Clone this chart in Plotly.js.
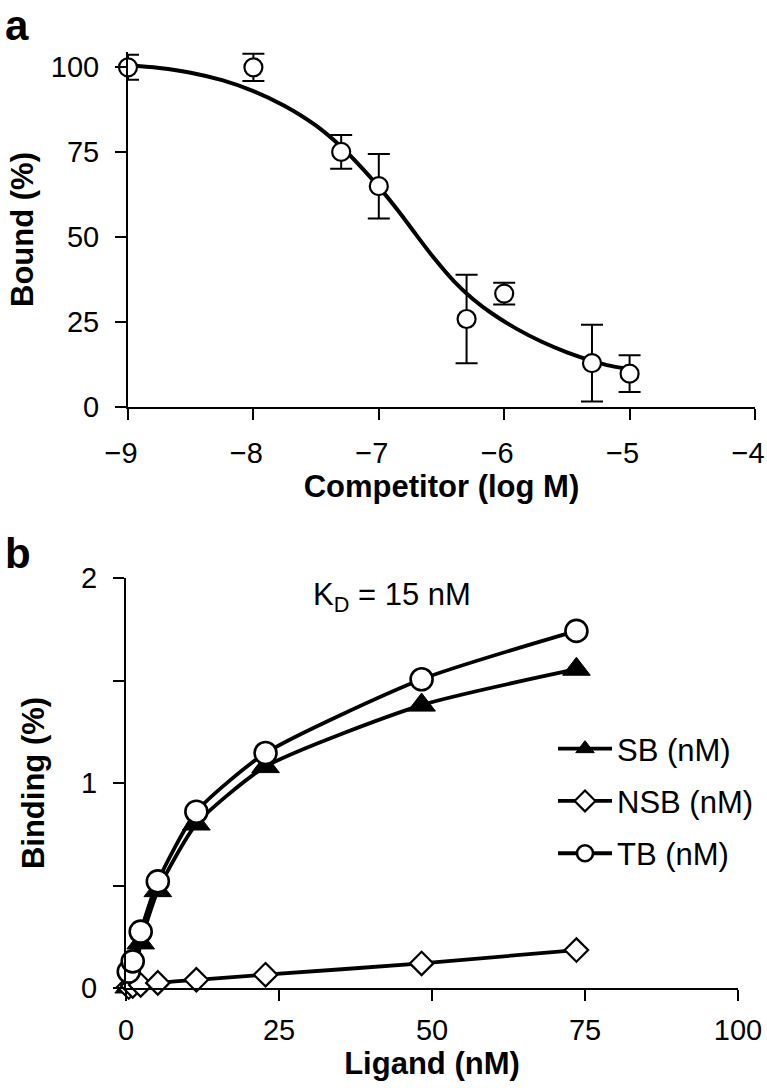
<!DOCTYPE html>
<html>
<head>
<meta charset="utf-8">
<script src="https://cdn.plot.ly/plotly-3.0.1.min.js"></script>
<style>html,body{margin:0;padding:0;background:#fff;}#chart{width:767px;height:1088px;}</style>
</head>
<body>
<div id="chart"></div>
<script>
// ---------- Panel a data ----------
const competitorLogM = [-9, -8, -7.3, -7, -6.3, -6, -5.3, -5];
const boundPct = [100, 100, 75.1, 65.0, 25.9, 33.4, 12.9, 9.8];
const boundErr = [3.7, 4.0, 5.0, 9.5, 13.0, 3.2, 11.3, 5.4];
const fitX = [-9, -8.75, -8.5, -8.25, -8, -7.75, -7.5, -7.3, -7.15, -7, -6.85, -6.7, -6.55, -6.4, -6.25, -6.1, -5.9, -5.7, -5.5, -5.3, -5.15, -5];
const fitY = [100.6, 99.8, 98.4, 96.2, 93.0, 88.6, 82.8, 76.6, 71.0, 64.8, 58.0, 50.6, 43.4, 37.0, 31.8, 27.6, 23.0, 19.2, 16.1, 13.6, 12.1, 11.2];
const xTicksA = [-9, -8, -7, -6, -5, -4];
const xTickTextA = ['\u22129', '\u22128', '\u22127', '\u22126', '\u22125', '\u22124'];
const yTicksA = [0, 25, 50, 75, 100];

// ---------- Panel b data ----------
const ligandNM = [0.45, 1.1, 2.4, 5.2, 11.5, 22.8, 48.3, 73.6];
const sbVals = [0.005, 0.01, 0.22, 0.475, 0.80, 1.08, 1.38, 1.555];
const nsbVals = [0.005, 0.01, 0.015, 0.025, 0.04, 0.065, 0.12, 0.185];
const tbVals = [0.08, 0.13, 0.275, 0.52, 0.86, 1.146, 1.506, 1.742];
const seriesNames = ['SB (nM)', 'NSB (nM)', 'TB (nM)'];
const xTicksB = [0, 25, 50, 75, 100];
const yTicksB = [0, 1, 2];
const yMinorStepB = 0.5;

const FONT = 'Liberation Sans, Arial, Helvetica, sans-serif';
const W = 767, H = 1088;
const TICK = 29, TITLE = 31;

const traces = [
  {x: fitX, y: fitY, xaxis: 'x', yaxis: 'y', mode: 'lines', type: 'scatter',
   line: {color: '#000', width: 4, shape: 'spline', smoothing: 1}, showlegend: false, hoverinfo: 'skip'},
  {x: competitorLogM, y: boundPct, xaxis: 'x', yaxis: 'y', mode: 'markers', type: 'scatter',
   error_y: {type: 'data', array: boundErr, visible: true, color: '#000', thickness: 2, width: 11},
   marker: {symbol: 'circle', size: 18, color: '#fff', line: {color: '#000', width: 2.2}},
   cliponaxis: false, showlegend: false},
  {x: ligandNM, y: sbVals, xaxis: 'x2', yaxis: 'y2', mode: 'lines+markers', type: 'scatter', name: seriesNames[0],
   legendgroup: 'g1', line: {color: '#000', width: 3.8, shape: 'spline', smoothing: 0.6},
   marker: {symbol: 'triangle-up', size: 24, color: '#000', line: {color: '#000', width: 1}}, cliponaxis: false},
  {x: ligandNM, y: nsbVals, xaxis: 'x2', yaxis: 'y2', mode: 'lines+markers', type: 'scatter', name: seriesNames[1],
   legendgroup: 'g2', line: {color: '#000', width: 3.8, shape: 'spline', smoothing: 0.6},
   marker: {symbol: 'diamond', size: 18, color: '#fff', line: {color: '#000', width: 2.2}}, cliponaxis: false},
  {x: ligandNM, y: tbVals, xaxis: 'x2', yaxis: 'y2', mode: 'lines+markers', type: 'scatter', name: seriesNames[2],
   legendgroup: 'g3', line: {color: '#000', width: 3.8, shape: 'spline', smoothing: 0.6},
   marker: {symbol: 'circle', size: 22, color: '#fff', line: {color: '#000', width: 2.6}}, cliponaxis: false}
];

const axBase = {showgrid: false, zeroline: false, showline: true, linecolor: '#000', linewidth: 2,
  ticks: 'outside', ticklen: 11, tickwidth: 2, tickcolor: '#000', ticklabelstandoff: 6,
  ticklabeloverflow: 'allow',
  tickfont: {family: FONT, size: TICK, color: '#000'}, fixedrange: true};
const titleFont = {family: FONT, size: TITLE, color: '#000'};

const layout = {
  width: W, height: H,
  margin: {l: 0, r: 0, t: 0, b: 0},
  paper_bgcolor: '#fff', plot_bgcolor: 'rgba(0,0,0,0)',
  font: {family: FONT, color: '#000'},
  showlegend: true,
  legend: {x: 553 / W, y: 1 - 722 / H, xanchor: 'left', yanchor: 'top', bgcolor: 'rgba(0,0,0,0)',
    font: {family: FONT, size: 31, color: '#000'}, tracegroupgap: 9, itemwidth: 54},
  xaxis: Object.assign({}, axBase, {domain: [128 / W, 755 / W], range: [-9, -4], anchor: 'y',
    tickvals: xTicksA, ticktext: xTickTextA, ticklabelstandoff: 8, ticklabelshift: -7,
    title: {text: '<b>Competitor (log M)</b>', font: titleFont, standoff: 8}}),
  yaxis: Object.assign({}, axBase, {domain: [1 - 407 / H, 1 - 52 / H], range: [0, 104.5], anchor: 'x',
    tickvals: yTicksA, ticklabelstandoff: 10, title: {text: '<b>Bound (%)</b>', font: titleFont, standoff: 8}}),
  xaxis2: Object.assign({}, axBase, {domain: [126 / W, 738 / W], range: [0, 100], anchor: 'y2',
    tickvals: xTicksB, ticklabelstandoff: 4, title: {text: '<b>Ligand (nM)</b>', font: titleFont, standoff: 3}}),
  yaxis2: Object.assign({}, axBase, {domain: [1 - 988 / H, 1 - 578 / H], range: [0, 2], anchor: 'x2',
    tickvals: yTicksB, ticklabelstandoff: 10,
    minor: {tick0: 0, dtick: yMinorStepB, ticks: 'outside', ticklen: 11, tickwidth: 2, tickcolor: '#000', showgrid: false},
    title: {text: '<b>Binding (%)</b>', font: titleFont, standoff: 27}}),
  annotations: [
    {text: '<b>a</b>', xref: 'paper', yref: 'paper', x: 3 / W, y: 1 - 0 / H, xanchor: 'left', yanchor: 'top', showarrow: false,
     font: {family: FONT, size: 42, color: '#000'}},
    {text: '<b>b</b>', xref: 'paper', yref: 'paper', x: 3 / W, y: 1 - 528 / H, xanchor: 'left', yanchor: 'top', showarrow: false,
     font: {family: FONT, size: 42, color: '#000'}},
    {text: 'K<sub>D</sub> = 15 nM', xref: 'paper', yref: 'paper', x: 392 / W, y: 1 - 597 / H, xanchor: 'center', yanchor: 'middle', showarrow: false,
     font: {family: FONT, size: 31, color: '#000'}}
  ]
};

Plotly.newPlot('chart', traces, layout, {displayModeBar: false, staticPlot: true});
</script>
</body>
</html>
